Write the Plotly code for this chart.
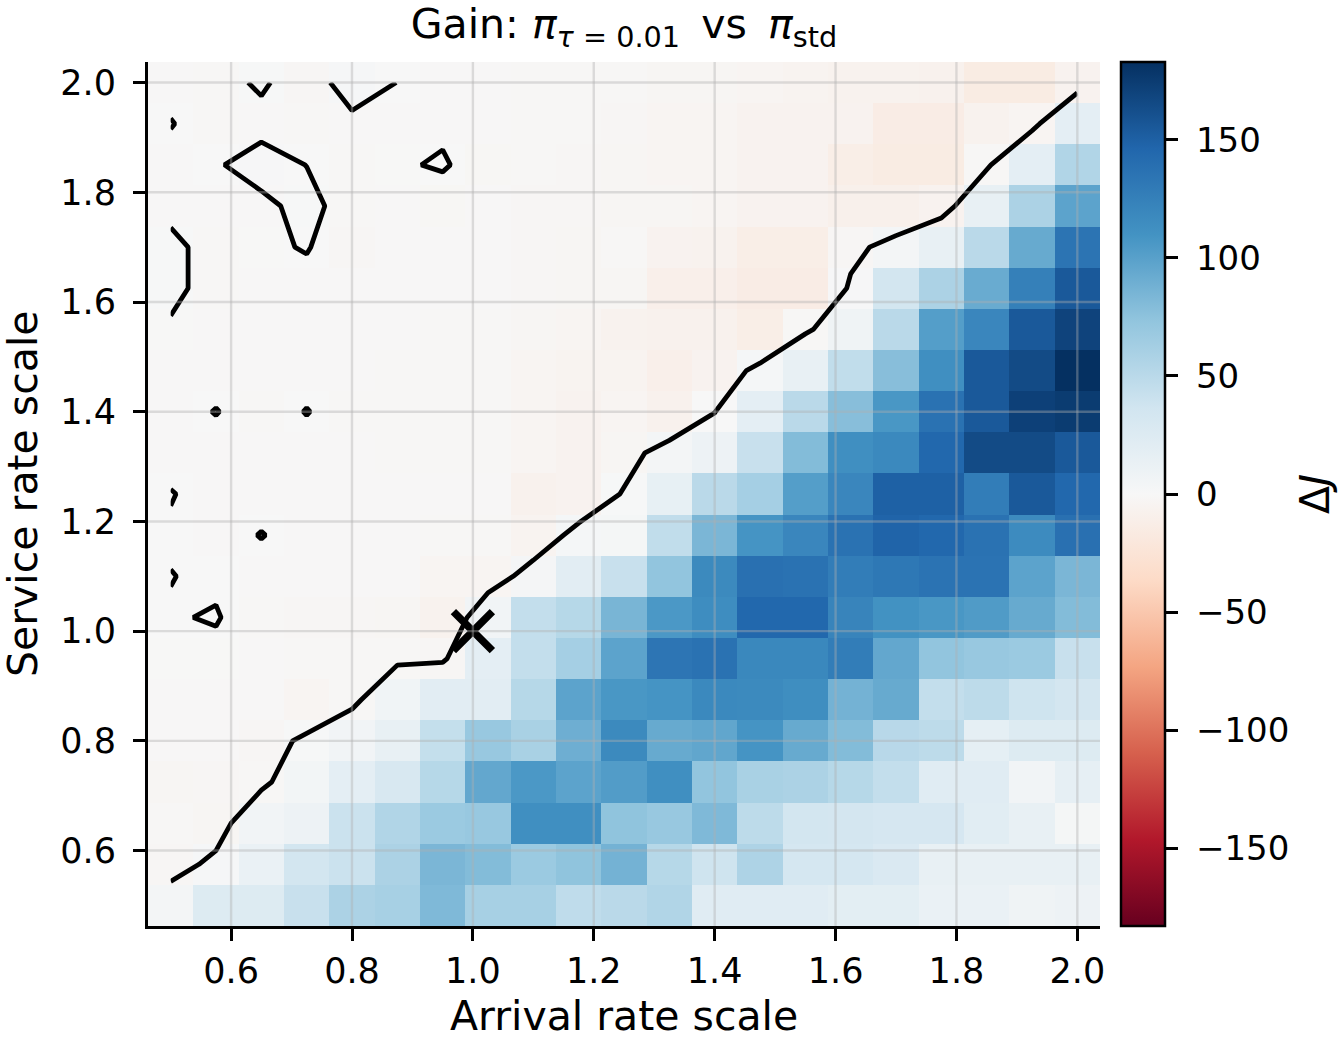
import plotly.graph_objects as go

arrival_scale = [0.5, 0.575, 0.65, 0.725, 0.8, 0.875, 0.95, 1.025, 1.1, 1.175, 1.25,
                 1.325, 1.4, 1.475, 1.55, 1.625, 1.7, 1.775, 1.85, 1.925, 2.0]
# service scale rows listed from top (2.0) to bottom (0.5)
service_scale_top_down = [2.0, 1.925, 1.85, 1.775, 1.7, 1.625, 1.55, 1.475, 1.4, 1.325, 1.25,
                          1.175, 1.1, 1.025, 0.95, 0.875, 0.8, 0.725, 0.65, 0.575, 0.5]

row_200 = [-1, -1.22, 0.5, -2, 1.85, -0.05, -0.75, -0.75, -1.5, -1.5, -1.5, -3, -3, -4, -5, -7, -7, -8, -15, -15, -6]
row_193 = [0.15, -1.5, -1.05, -1.25, -0.87, -0.75, -0.7, -1, -1.5, -1.5, -2, -4, -4, -6, -6, -6, -14, -14, -7, -3.7, 18]
row_185 = [-1, -0.3, 1.3, -0.05, -1.5, -0.45, 0.4, -1.95, -1.5, -2, -3, -4, -4, -6, -6, -12, -15, -15, -1.9, 18, 55]
row_178 = [-1.1, -1, -0.75, 1, -1.5, -1, -1.95, -1, -2, -2.5, -3, -3, -4, -6, -6, -9, -9, -6, 14, 58, 98]
row_170 = [1, -1.6, -0.57, 0.2, -2, -1, -1, -1, -2, -3, -1.5, -6, -7, -12, -12, -2.5, 3.5, 14.7, 50, 93, 135]
row_163 = [1, -1.6, -1, -1, -1, -1, -1, -1, -2.5, -3, -3, -10, -10, -14, -14, 1.35, 35, 58, 92, 125, 155]
row_155 = [-0.5, -1, -1, -1, -1, -1, -1.25, -1.5, -3, -4, -7, -8, -8, -12, -1.7, 8, 50, 102, 120, 155, 170]
row_148 = [-0.75, -1, -1, -1, -1, -1.25, -1.5, -1.5, -4, -5, -5, -10, -6, 2.6, 14, 46, 78, 113, 155, 165, 183]
row_140 = [-1, 0.1, -1.25, 0.1, -1.25, -1.5, -1.5, -1.5, -4, -6, -4, -8, -0.3, 18, 50, 78, 107, 137, 155, 172, 175]
row_133 = [-0.75, -1, -1, -1, -1, -1.25, -1.5, -1.5, -4, -6, -3, 3.5, 10, 42, 80, 113, 118, 145, 165, 165, 155]
row_125 = [0.1, -0.75, -0.75, -0.75, -0.75, -0.75, -1, -1, -8, -6, 0.6, 15, 50, 62, 102, 120, 150, 150, 128, 155, 145]
row_118 = [-0.25, -0.75, 0.075, -0.75, -0.75, -1, -1.5, -1.5, -5, 2.5, 3, 46, 84, 109, 120, 137, 148, 145, 137, 116, 138]
row_110 = [0.05, -0.35, -0.75, -0.75, -0.75, -1, -4, -4, 3.2, 20, 42, 73, 117, 138, 137, 128, 132, 136, 136, 98, 84]
row_103 = [-0.15, 0.15, -1.2, -2, -2, -3, -7, 6, 45, 52, 85, 106, 115, 145, 145, 122, 111, 107, 104, 93, 80]
row_095 = [-0.5, -0.55, -0.75, -1.5, -1.5, -1.33, -2, 18, 45, 62, 98, 134, 137, 119, 119, 128, 95, 73, 70, 68, 42]
row_088 = [-0.75, -0.75, -1, -4, -1.8, 7, 20, 20, 52, 98, 107, 109, 118, 117, 114, 87, 93, 45, 48, 38, 34]
row_080 = [-1, -1, -2, 0.9, 6, 14, 44, 70, 60, 90, 117, 93, 96, 109, 93, 80, 51, 48, 17, 25, 25]
row_073 = [-3, -2.5, -1.5, 5, 18, 30, 52, 95, 106, 98, 103, 113, 73, 60, 58, 52, 45, 22, 22, 6, 16]
row_065 = [-1.5, -3, 6, 10, 40, 55, 68, 70, 113, 113, 74, 70, 82, 48, 35, 34, 32, 32, 21, 14, 3]
row_058 = [-2.5, 1.5, 13, 35, 40, 58, 84, 80, 68, 74, 87, 52, 38, 57, 33, 33, 28, 14, 14, 14, 14]
row_050 = [3.5, 25, 25, 42, 58, 61, 82, 61, 61, 47, 50, 55, 22, 22, 22, 19, 19, 13, 13, 8, 10]

rows_top_down = [row_200, row_193, row_185, row_178, row_170, row_163, row_155, row_148,
                 row_140, row_133, row_125, row_118, row_110, row_103, row_095, row_088,
                 row_080, row_073, row_065, row_058, row_050]

service_scale = service_scale_top_down[::-1]
delta_j = rows_top_down[::-1]

nominal_point = ([1.0], [1.0])
axis_ticks = [0.6, 0.8, 1.0, 1.2, 1.4, 1.6, 1.8, 2.0]
cbar_ticks = [-150, -100, -50, 0, 50, 100, 150]
cbar_labels = ["\u2212150", "\u2212100", "\u221250", "0", "50", "100", "150"]

rdbu = [[0.0, "#67001f"], [0.1, "#b2182b"], [0.2, "#d6604d"], [0.3, "#f4a582"],
        [0.4, "#fddbc7"], [0.5, "#f7f7f7"], [0.6, "#d1e5f0"], [0.7, "#92c5de"],
        [0.8, "#4393c3"], [0.9, "#2166ac"], [1.0, "#053061"]]

FONT = "DejaVu Sans"
TICK_SIZE = 35
LABEL_SIZE = 41

# plot-area geometry in pixels (for placing text relative to the axes)
PLOT_L, PLOT_R, PLOT_T, PLOT_B = 148, 1100, 62, 926
PW, PH = PLOT_R - PLOT_L, PLOT_B - PLOT_T

fig = go.Figure()
fig.add_trace(go.Heatmap(
    x=arrival_scale, y=service_scale, z=delta_j,
    colorscale=rdbu, zmin=-183, zmax=183, zsmooth=False,
    colorbar=dict(
        x=1.022, xanchor="left", y=0.5, yanchor="middle", len=1.0, lenmode="fraction",
        thickness=44, thicknessmode="pixels",
        outlinecolor="black", outlinewidth=2.5,
        tickvals=cbar_ticks,
        ticktext=["\u2006\u2006" + s for s in cbar_labels],
        ticks="outside", ticklen=12, tickwidth=2.5, tickcolor="black",
        tickfont=dict(family=FONT, size=34, color="black"),
        xpad=0, ypad=0,
    ),
    hoverinfo="skip",
))

fig.add_trace(go.Contour(
    x=arrival_scale, y=service_scale, z=delta_j,
    contours=dict(start=0, end=0, size=1, coloring="none", showlines=True),
    line=dict(color="black", width=4.8, smoothing=0),
    showscale=False, hoverinfo="skip",
))

fig.add_trace(go.Scatter(
    x=nominal_point[0], y=nominal_point[1], mode="markers",
    marker=dict(symbol="x-thin", size=39, color="black",
                line=dict(color="black", width=7.5)),
    showlegend=False, hoverinfo="skip",
))

shapes = []
for t in axis_ticks:
    shapes.append(dict(type="line", xref="x", yref="paper", x0=t, x1=t, y0=0, y1=1,
                       line=dict(color="rgba(176,176,176,0.4)", width=2.4), layer="above"))
    shapes.append(dict(type="line", xref="paper", yref="y", x0=0, x1=1, y0=t, y1=t,
                       line=dict(color="rgba(176,176,176,0.4)", width=2.4), layer="above"))

axis_common = dict(
    tickvals=axis_ticks, ticktext=[f"{t:.1f}" for t in axis_ticks],
    ticks="outside", ticklen=12, tickwidth=2.5, tickcolor="black",
    tickfont=dict(family=FONT, size=TICK_SIZE, color="black"),
    showline=True, linecolor="black", linewidth=3, mirror=False,
    showgrid=False, zeroline=False, automargin=False,
)

label_font = dict(family=FONT, size=LABEL_SIZE, color="black")

fig.update_layout(
    width=1338, height=1041,
    margin=dict(l=PLOT_L, r=1338 - PLOT_R, t=PLOT_T, b=1041 - PLOT_B, autoexpand=False),
    paper_bgcolor="white", plot_bgcolor="white",
    font=dict(family=FONT, color="black"),
    showlegend=False,
    title=dict(
        text="Gain: <i>\u03c0</i><sub><i>\u03c4</i> = 0.01</sub>\u2009 vs\u2009 <i>\u03c0</i><sub>std</sub>",
        x=(PLOT_L + PLOT_R) / 2 / 1338, xanchor="center", y=1 - 24 / 1041, yanchor="middle",
        font=dict(family=FONT, size=41, color="black"),
    ),
    xaxis=dict(range=[0.4625, 2.0375], **axis_common),
    yaxis=dict(range=[0.4625, 2.0375], ticklabelstandoff=10, **axis_common),
    shapes=shapes,
    annotations=[
        dict(text="Arrival rate scale", xref="paper", yref="paper",
             x=0.5, y=(PLOT_B - 1016) / PH, xanchor="center", yanchor="middle",
             showarrow=False, borderpad=0, font=label_font),
        dict(text="Service rate scale", xref="paper", yref="paper",
             x=(23 - PLOT_L) / PW, y=(PLOT_B - 494) / PH, xanchor="center", yanchor="middle",
             textangle=-90, showarrow=False, borderpad=0, font=label_font),
        dict(text="\u0394<i>J</i>", xref="paper", yref="paper",
             x=(1315 - PLOT_L) / PW, y=0.5, xanchor="center", yanchor="middle",
             textangle=-90, showarrow=False, borderpad=0, font=label_font),
    ],
)

fig.write_html("out.html")
